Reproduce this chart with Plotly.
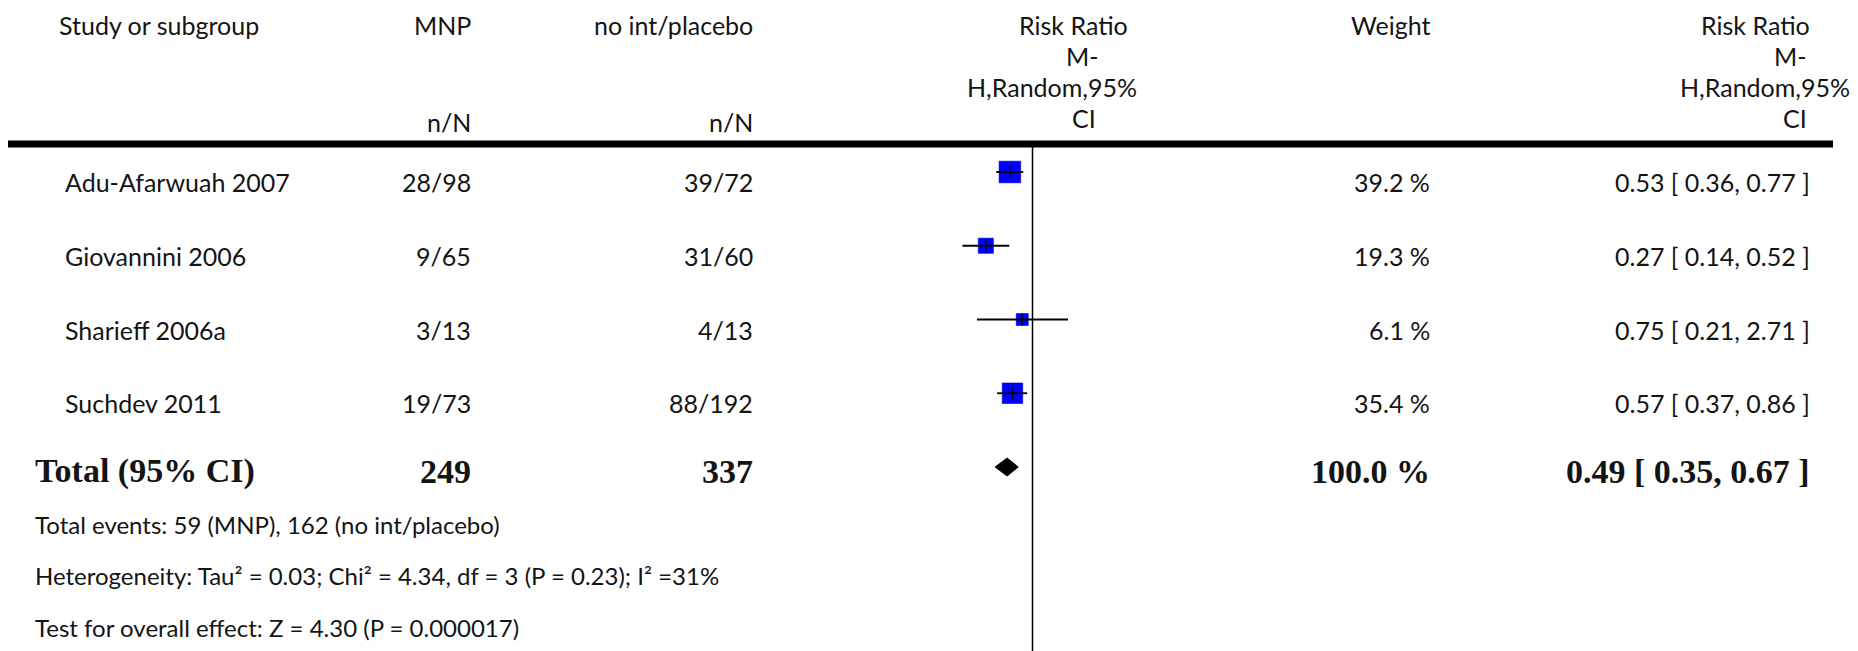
import numpy as np
import plotly.graph_objects as go

# ---- data -------------------------------------------------------------
studies = ["Adu-Afarwuah 2007", "Giovannini 2006", "Sharieff 2006a", "Suchdev 2011"]
mnp_events = [28, 9, 3, 19]
mnp_totals = [98, 65, 13, 73]
ctrl_events = [39, 31, 4, 88]
ctrl_totals = [72, 60, 13, 192]
weights = [39.2, 19.3, 6.1, 35.4]
rr = [0.53, 0.27, 0.75, 0.57]
rr_lo = [0.36, 0.14, 0.21, 0.37]
rr_hi = [0.77, 0.52, 2.71, 0.86]

total_label = "Total (95% CI)"
total_mnp = 249
total_ctrl = 337
total_weight = 100.0
total_rr = 0.49
total_lo = 0.35
total_hi = 0.67

footer_lines = [
    "Total events: 59 (MNP), 162 (no int/placebo)",
    "Heterogeneity: Tau² = 0.03; Chi² = 4.34, df = 3 (P = 0.23); I² =31%",
    "Test for overall effect: Z = 4.30 (P = 0.000017)",
]

# ---- geometry ---------------------------------------------------------
W, H = 1858, 651
NULL_PX = 1032.5          # horizontal position of RR = 1
PX_PER_DECADE = 82.0      # log scale of the forest panel
ROW0_PX = 172.0           # centre of the first study row
ROW_STEP = 73.75          # distance between rows

SANS = "Lato"
SERIF = "Liberation Serif"
INK = "#141414"
BLUE = "#0000ff"


def px_x(px):
    return px / W


def px_y(py):
    return 1 - py / H


rows = list(range(len(studies)))
total_row = len(studies)

fig = go.Figure()

# study squares, sized by weight
sizes = [max(12.0, 3.45 * np.sqrt(w)) for w in weights]
fig.add_trace(go.Scatter(
    x=rr, y=rows, mode="markers",
    marker=dict(symbol="square", size=sizes, color=BLUE, opacity=1,
                line=dict(color="#0000c8", width=0.6)),
    hoverinfo="skip", showlegend=False))

# confidence interval lines
ci_x, ci_y = [], []
for lo, hi, r in zip(rr_lo, rr_hi, rows):
    ci_x += [lo, hi, None]
    ci_y += [r, r, None]
fig.add_trace(go.Scatter(
    x=ci_x, y=ci_y, mode="lines",
    line=dict(color="black", width=1.8),
    hoverinfo="skip", showlegend=False))

# small tick at each point estimate
fig.add_trace(go.Scatter(
    x=rr, y=rows, mode="markers",
    marker=dict(symbol="line-ns", size=9, opacity=1,
                line=dict(color="black", width=1.3)),
    hoverinfo="skip", showlegend=False))

# pooled estimate diamond
half_h = 9.0 / ROW_STEP
fig.add_trace(go.Scatter(
    x=[total_lo, total_rr, total_hi, total_rr, total_lo],
    y=[total_row, total_row - half_h, total_row, total_row + half_h, total_row],
    mode="lines", fill="toself", fillcolor="black",
    line=dict(color="black", width=1),
    hoverinfo="skip", showlegend=False))

# ---- rules ------------------------------------------------------------
shapes = [
    # heavy rule under the header
    dict(type="line", xref="paper", yref="paper",
         x0=px_x(8), x1=px_x(1833), y0=px_y(144), y1=px_y(144),
         line=dict(color="black", width=7)),
    # line of no effect
    dict(type="line", xref="x", yref="paper",
         x0=1, x1=1, y0=0, y1=px_y(147),
         line=dict(color="black", width=1.5)),
]

# ---- text -------------------------------------------------------------
ann = []


def text(x_px, y_px, s, anchor="left", size=25, family=SANS):
    ann.append(dict(x=px_x(x_px), y=px_y(y_px), xref="paper", yref="paper",
                    text=s, showarrow=False, xanchor=anchor, yanchor="middle",
                    font=dict(family=family, size=size, color=INK)))


def row_text(x_px, row, s, anchor="left", size=25, family=SANS, shift=-10,
             weight="normal"):
    ann.append(dict(x=px_x(x_px), y=row, xref="paper", yref="y",
                    text=s, showarrow=False, xanchor=anchor, yanchor="middle",
                    yshift=shift,
                    font=dict(family=family, size=size, color=INK, weight=weight)))


COL_STUDY = 63
COL_TOTAL = 33
COL_MNP = 473
COL_CTRL = 755
COL_WEIGHT = 1432
COL_RR = 1812

# header (the effect-measure headings wrap over four lines)
HDR_Y = [25, 56, 87, 118]
text(57, HDR_Y[0], "Study or subgroup")
text(COL_MNP, HDR_Y[0], "MNP", "right")
text(COL_CTRL, HDR_Y[0], "no int/placebo", "right")
text(COL_MNP, 122, "n/N", "right")
text(COL_CTRL, 122, "n/N", "right")
text(1073, HDR_Y[0], "Risk Ratio", "center")
text(1082, HDR_Y[1], "M-", "center")
text(1052, HDR_Y[2], "H,Random,95%", "center")
text(1084, HDR_Y[3], "CI", "center")
text(COL_WEIGHT, HDR_Y[0], "Weight", "right")
text(COL_RR, HDR_Y[0], "Risk Ratio", "right")
text(1809, HDR_Y[1], "M-", "right")
text(1852, HDR_Y[2], "H,Random,95%", "right")
text(1809, HDR_Y[3], "CI", "right")

# study rows
for r, name, e1, n1, e2, n2, w, est, lo, hi in zip(
        rows, studies, mnp_events, mnp_totals, ctrl_events, ctrl_totals,
        weights, rr, rr_lo, rr_hi):
    row_text(COL_STUDY, r, name)
    row_text(COL_MNP, r, f"{e1}/{n1}", "right")
    row_text(COL_CTRL, r, f"{e2}/{n2}", "right")
    row_text(COL_WEIGHT, r, f"{w:.1f} %", "right")
    row_text(COL_RR, r, f"{est:.2f} [ {lo:.2f}, {hi:.2f} ]", "right")

# total row
TS = 34
bold = dict(size=TS, family=SERIF, shift=-4, weight="bold")
row_text(COL_TOTAL, total_row, total_label, **bold)
row_text(COL_MNP, total_row, f"{total_mnp}", "right", **bold)
row_text(COL_CTRL, total_row, f"{total_ctrl}", "right", **bold)
row_text(COL_WEIGHT, total_row, f"{total_weight:.1f} %", "right", **bold)
row_text(COL_RR, total_row,
         f"{total_rr:.2f} [ {total_lo:.2f}, {total_hi:.2f} ]", "right", **bold)

# footer
for i, line in enumerate(footer_lines):
    text(33, 524 + 51.5 * i, line, size=24)

fig.update_layout(
    width=W, height=H,
    margin=dict(l=0, r=0, t=0, b=0),
    paper_bgcolor="white", plot_bgcolor="white",
    showlegend=False,
    xaxis=dict(type="log", domain=[0, 1],
               range=[(0 - NULL_PX) / PX_PER_DECADE, (W - NULL_PX) / PX_PER_DECADE],
               visible=False, fixedrange=True),
    yaxis=dict(range=[(H - ROW0_PX) / ROW_STEP, -ROW0_PX / ROW_STEP],
               visible=False, fixedrange=True),
    shapes=shapes,
    annotations=ann,
)

fig.write_html("out.html")
